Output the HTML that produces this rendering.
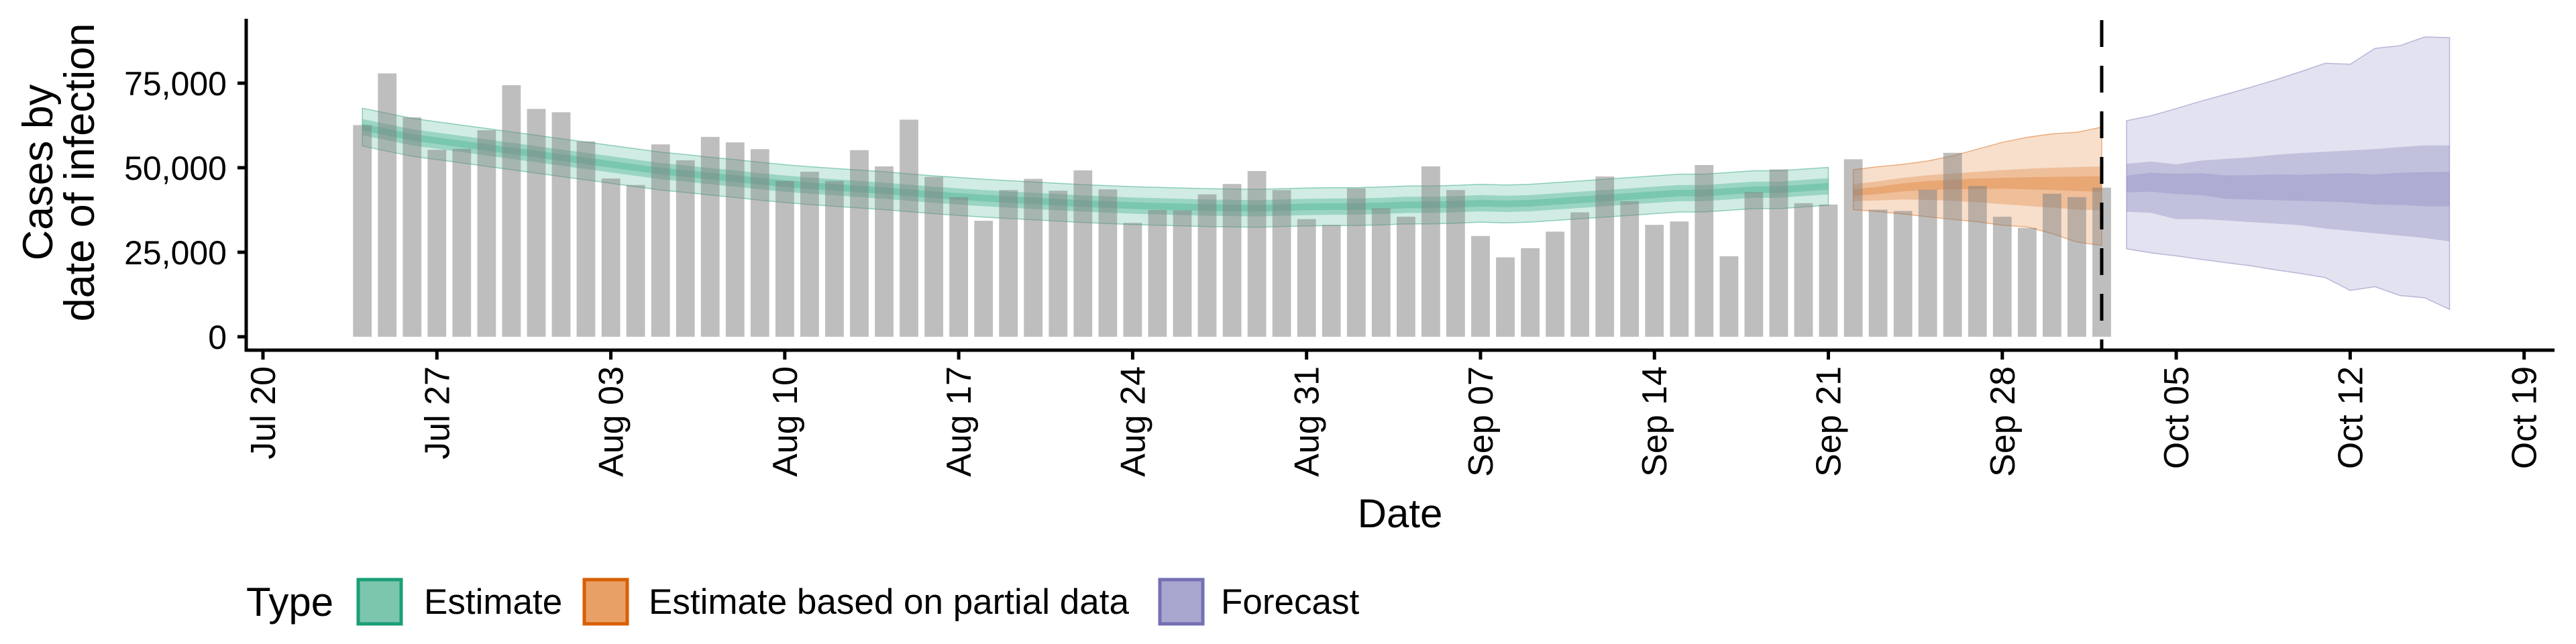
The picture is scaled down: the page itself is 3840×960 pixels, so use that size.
<!DOCTYPE html>
<html><head><meta charset="utf-8"><style>
html,body{margin:0;padding:0;background:#fff;}
svg{display:block;font-family:"Liberation Sans",Arial,sans-serif;}
</style></head><body>
<svg id="chart" width="3840" height="960" viewBox="0 0 3840 960" xmlns="http://www.w3.org/2000/svg">
<g id="bands"></g>
<g id="bars"></g>
<g id="axes"></g>
<text transform="translate(78,257) rotate(-90)" text-anchor="middle" font-size="63">Cases by</text>
<text transform="translate(140,257) rotate(-90)" text-anchor="middle" font-size="63">date of infection</text>
<text x="2087" y="786" text-anchor="middle" font-size="60">Date</text>
<g>
<text x="367" y="918" font-size="60">Type</text>
<rect x="534" y="864" width="64" height="66" fill="#7cc6ad" stroke="#1b9e77" stroke-width="5"/>
<text x="632" y="915" font-size="53">Estimate</text>
<rect x="871" y="864" width="64" height="66" fill="#e9a066" stroke="#d95f02" stroke-width="5"/>
<text x="967" y="915" font-size="53">Estimate based on partial data</text>
<rect x="1729" y="864" width="64" height="66" fill="#a9a6cf" stroke="#7570b3" stroke-width="5"/>
<text x="1820" y="915" font-size="53">Forecast</text>
</g>
</svg>
<script>
// ---- data ----
const barStartDay = 4; // Jul 24 (days after Jul 20)
const barValues = [62.6,77.9,64.9,55.3,55.6,61.1,74.4,67.4,66.4,57.8,46.8,44.9,56.9,52.2,59.1,57.5,55.5,46.1,48.8,46.1,55.2,50.4,64.2,47.3,41.3,34.3,43.4,46.7,43.2,49.2,43.6,33.7,
37.5,37.4,42.1,45.2,49.0,43.4,34.8,33.1,43.9,38.0,35.5,50.4,43.4,29.8,23.5,26.2,31.1,36.8,47.4,40.1,33.1,34.1,50.8,23.8,42.8,49.5,39.5,39.1,52.5,37.6,37.2,43.5,54.4,44.6,35.5,32.2,42.3,41.3,44.1];
const estStartDay = 4;
const estMedian = [62,60.5,59,58,57,56,55,54,53,52,51,50,49,48.3,47.5,46.8,46,45.3,44.7,44.2,43.7,43.2,42.6,42,41.5,41,40.6,40.2,39.8,39.4,39.1,38.8,38.6,38.4,38.2,38.1,38,38.2,38.4,
38.5,38.5,38.7,39,39,39.2,39.5,39.3,39.5,40,40.5,41,41.5,42,42.5,42.5,43,43.5,43.5,44,44.5];
const estHalfWidth90 = 5.6, estHalfWidth50 = 2.4, estHalfWidth20 = 1.0;
const partStartDay = 64;
const partHi90 = [49.4,50.3,51,52,53.5,55.5,57.5,59,60,60.5,62];
const partLo90 = [37.6,37,36.3,35.5,34.7,34,33,32.5,30.5,28,27];
const partHi50 = [45.1,46,47,47.8,48.3,48.8,49.3,49.7,50,50.2,50.4];
const partLo50 = [40.1,40.3,40.6,40.5,40.2,39.8,39.2,38.7,38.2,37.6,37.4];
const partHi20 = [43.6,44.4,45.4,46.1,46.4,46.8,47,47.2,47.3,47.4,47.5];
const partLo20 = [41.6,42.2,43,43.4,43.6,43.7,43.8,43.6,43.4,43.1,42.9];
const fcStartDay = 75;
const fcHi90 = [63.9,65.4,67.5,69.7,71.7,73.8,76.0,78.4,80.9,80.6,85.3,86.1,88.7,88.5];
const fcLo90 = [26.0,24.8,23.9,22.9,21.9,21.0,19.8,18.7,17.5,13.7,14.8,12.2,11.5,8.1];
const fcHi50 = [51.2,51.8,51.0,52.1,52.6,53.1,53.8,54.3,54.7,55.1,55.5,56.1,56.6,56.6];
const fcLo50 = [37.0,36.6,34.8,34.8,34.4,33.9,33.5,33.0,32.0,31.3,30.6,29.9,29.2,28.2];
const fcHi20 = [47.7,48.5,48.2,48.4,47.7,47.8,48.0,47.9,48.2,48.4,48.0,48.5,48.7,48.8];
const fcLo20 = [42.7,42.9,42.2,41.9,40.8,40.6,40.4,40.2,40.0,39.7,39.1,39.0,38.6,38.6];
const yTicks = [0,25000,50000,75000];
const yTickLabels = ["0","25,000","50,000","75,000"];
const xTickDays = [0,7,14,21,28,35,42,49,56,63,70,77,84,91];
const xTickLabels = ["Jul 20","Jul 27","Aug 03","Aug 10","Aug 17","Aug 24","Aug 31","Sep 07","Sep 14","Sep 21","Sep 28","Oct 05","Oct 12","Oct 19"];
const dataCutoffDay = 74;

// ---- scales ----
const NS = "http://www.w3.org/2000/svg";
const X0 = 392, DAY = 37.04, Y0 = 502, PER = 126/25000;
function x(d){ return X0 + d*DAY; }
function y(v){ return Y0 - v*PER; }
function yk(v){ return y(v*1000); }
function mk(tag, attrs, parent){ const e=document.createElementNS(NS,tag); for(const k in attrs) e.setAttribute(k,attrs[k]); parent.appendChild(e); return e; }

const bands = document.getElementById('bands');
function band(start, lo, hi, fill, op, stroke, name){
  let pts=[];
  for(let i=0;i<hi.length;i++) pts.push(x(start+i).toFixed(1)+','+yk(hi[i]).toFixed(1));
  for(let i=lo.length-1;i>=0;i--) pts.push(x(start+i).toFixed(1)+','+yk(lo[i]).toFixed(1));
  const p = mk('polygon',{points:pts.join(' '),fill:fill,'fill-opacity':op,stroke:stroke||'none','stroke-width':stroke?1.5:0,'stroke-opacity':0.45},bands);
  
  
}
const eLo90=estMedian.map(v=>v-estHalfWidth90), eHi90=estMedian.map(v=>v+estHalfWidth90);
const eLo50=estMedian.map(v=>v-estHalfWidth50), eHi50=estMedian.map(v=>v+estHalfWidth50);
const eLo20=estMedian.map(v=>v-estHalfWidth20), eHi20=estMedian.map(v=>v+estHalfWidth20);
band(estStartDay,eLo90,eHi90,'#1b9e77',0.2,'#1b9e77','estimate-band-90');
band(estStartDay,eLo50,eHi50,'#1b9e77',0.3,null,'estimate-band-50');
band(estStartDay,eLo20,eHi20,'#1b9e77',0.25,null,'estimate-band-20');
band(partStartDay,partLo90,partHi90,'#d95f02',0.2,'#d95f02','partial-band-90');
band(partStartDay,partLo50,partHi50,'#d95f02',0.25,null,'partial-band-50');
band(partStartDay,partLo20,partHi20,'#d95f02',0.25,null,'partial-band-20');
band(fcStartDay,fcLo90,fcHi90,'#7570b3',0.2,'#7570b3','forecast-band-90');
band(fcStartDay,fcLo50,fcHi50,'#7570b3',0.3,null,'forecast-band-50');
band(fcStartDay,fcLo20,fcHi20,'#7570b3',0.25,null,'forecast-band-20');

// bars
const bars = document.getElementById('bars');
const bw = DAY*0.75;
barValues.forEach((v,i)=>{
  const cx = x(barStartDay+i);
  const r = mk('rect',{x:(cx-bw/2).toFixed(1),y:yk(v).toFixed(1),width:bw.toFixed(1),height:(Y0-yk(v)).toFixed(1),fill:'#7d7d7d','fill-opacity':0.5},bars);
  
  
});

// axes
const axes = document.getElementById('axes');
const cut = mk('line',{x1:x(dataCutoffDay),x2:x(dataCutoffDay),y1:30,y2:522,stroke:'#000','stroke-width':5,'stroke-dasharray':'40,28'},axes);


const ya = mk('line',{x1:367,x2:367,y1:28,y2:524,stroke:'#000','stroke-width':5},axes);


const xa = mk('line',{x1:365,x2:3808,y1:522,y2:522,stroke:'#000','stroke-width':5},axes);


yTicks.forEach((v,i)=>{
  const t = mk('line',{x1:354,x2:367,y1:y(v),y2:y(v),stroke:'#000','stroke-width':5},axes);
  
  
  const l = mk('text',{x:338,y:y(v)+18,'text-anchor':'end','font-size':50},axes);
  l.textContent = yTickLabels[i];
  
  
});
xTickDays.forEach((d,i)=>{
  const t = mk('line',{x1:x(d),x2:x(d),y1:522,y2:536,stroke:'#000','stroke-width':5},axes);
  
  
  const l = mk('text',{transform:'translate('+(x(d)+18).toFixed(1)+',546) rotate(-90)','text-anchor':'end','font-size':52},axes);
  l.textContent = xTickLabels[i];
  
  
});
</script>
</body></html>
